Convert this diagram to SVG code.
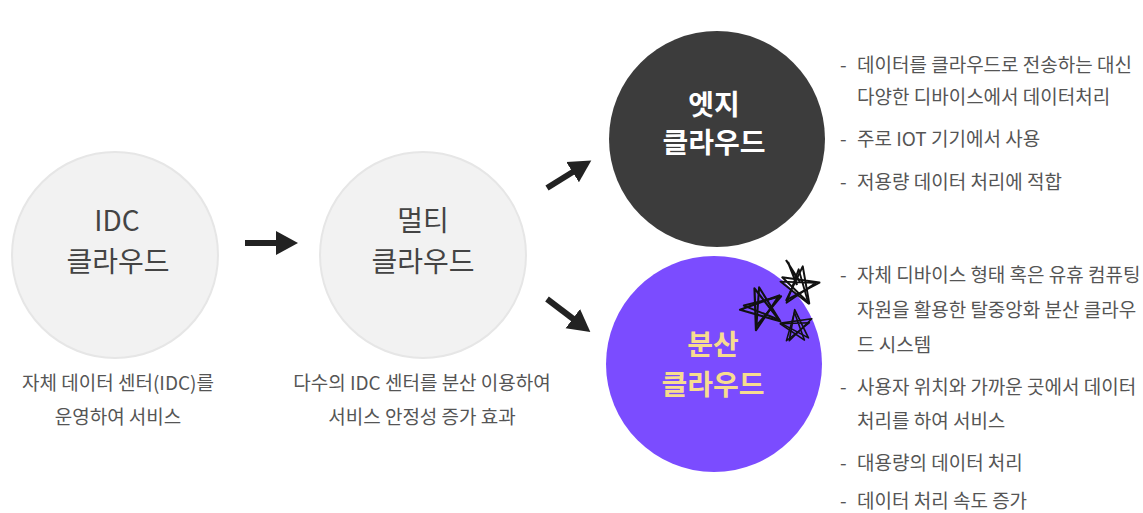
<svg xmlns="http://www.w3.org/2000/svg" width="1143" height="513" viewBox="0 0 1143 513">
<defs>
<style>
.t{font-family:"Noto Sans CJK KR","Noto Sans",sans-serif;}
.lab{font-size:28px;text-anchor:middle;fill:#444;}
.desc{font-size:19px;fill:#555;}
.cap{font-size:19px;fill:#555;text-anchor:middle;}
.light{fill:#f2f2f2;stroke:#e6e6e6;stroke-width:2;}
.arr{stroke:#222;stroke-width:6;fill:none;}
.star{fill:none;stroke:#111;stroke-width:2.2;stroke-linejoin:round;}
</style>
<marker id="ah" markerUnits="userSpaceOnUse" markerWidth="24" markerHeight="26" refX="4" refY="13" orient="auto">
<path d="M0,1 L22,13 L0,25 Z" fill="#222"/>
</marker>
<path id="star" d="M0,-22 L12.9,17.8 L-20.9,-6.8 L20.9,-6.8 L-12.9,17.8 Z"/>
</defs>
<rect width="1143" height="513" fill="#fff"/>

<g id="connectors">
<line class="arr" x1="245" y1="243" x2="280" y2="243" marker-end="url(#ah)"/>
<line class="arr" x1="547" y1="188" x2="576" y2="170" marker-end="url(#ah)"/>
<line class="arr" x1="547" y1="299" x2="576" y2="321" marker-end="url(#ah)"/>
</g>

<g id="idc">
<circle class="light" cx="115" cy="255" r="103"/>
<text class="t lab" x="117" y="231">IDC</text>
<text class="t lab" x="118" y="272">클라우드</text>
<text class="t cap" x="118" y="390">자체 데이터 센터(IDC)를</text>
<text class="t cap" x="118" y="424">운영하여 서비스</text>
</g>

<g id="multi">
<circle class="light" cx="423" cy="255" r="103"/>
<text class="t lab" x="423" y="231">멀티</text>
<text class="t lab" x="423" y="272">클라우드</text>
<text class="t cap" x="422" y="390">다수의 IDC 센터를 분산 이용하여</text>
<text class="t cap" x="422" y="424">서비스 안정성 증가 효과</text>
</g>

<g id="edge">
<circle cx="717" cy="139" r="108" fill="#3c3c3c"/>
<text class="t lab" x="714" y="115" style="fill:#fff;font-weight:bold">엣지</text>
<text class="t lab" x="714" y="153" style="fill:#fff;font-weight:bold">클라우드</text>
<text class="t desc" x="840" y="72">-</text>
<text class="t desc" x="857" y="72">데이터를 클라우드로 전송하는 대신</text>
<text class="t desc" x="857" y="104">다양한 디바이스에서 데이터처리</text>
<text class="t desc" x="840" y="146">-</text>
<text class="t desc" x="857" y="146">주로 IOT 기기에서 사용</text>
<text class="t desc" x="840" y="189">-</text>
<text class="t desc" x="857" y="189">저용량 데이터 처리에 적합</text>
</g>

<g id="distributed">
<circle cx="714" cy="364" r="108" fill="#7b4cff"/>
<text class="t lab" x="713" y="355" style="fill:#f7dc8f;font-weight:bold">분산</text>
<text class="t lab" x="713" y="395" style="fill:#f7dc8f;font-weight:bold">클라우드</text>
<text class="t desc" x="840" y="282">-</text>
<text class="t desc" x="857" y="282">자체 디바이스 형태 혹은 유휴 컴퓨팅</text>
<text class="t desc" x="857" y="317">자원을 활용한 탈중앙화 분산 클라우</text>
<text class="t desc" x="857" y="352">드 시스템</text>
<text class="t desc" x="840" y="394">-</text>
<text class="t desc" x="857" y="394">사용자 위치와 가까운 곳에서 데이터</text>
<text class="t desc" x="857" y="428">처리를 하여 서비스</text>
<text class="t desc" x="840" y="470">-</text>
<text class="t desc" x="857" y="470">대용량의 데이터 처리</text>
<text class="t desc" x="840" y="508">-</text>
<text class="t desc" x="857" y="508">데이터 처리 속도 증가</text>
</g>

<g id="stars">
<use href="#star" class="star" transform="translate(762,309) rotate(-20)"/>
<use href="#star" class="star" transform="translate(764,307) rotate(-14) scale(0.92)"/>
<use href="#star" class="star" transform="translate(800,286) rotate(8) scale(0.9)"/>
<use href="#star" class="star" transform="translate(798,288) rotate(2) scale(0.85)"/>
<use href="#star" class="star" transform="translate(797,326) rotate(-8) scale(0.75)"/>
<use href="#star" class="star" transform="translate(795,328) rotate(-2) scale(0.7)"/>
<path class="star" d="M786,260 L800,282 M788,262 L797,285"/>
</g>
</svg>
